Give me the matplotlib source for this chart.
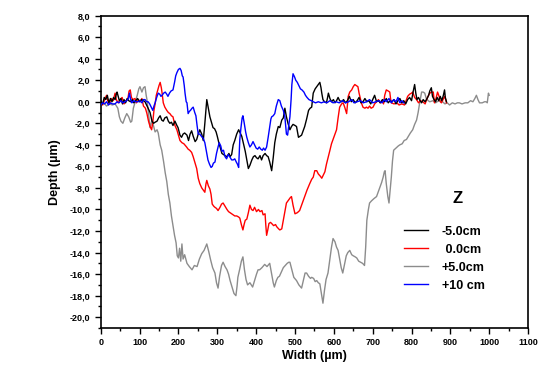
# Depth profiles across the track width for four Z positions

import matplotlib
matplotlib.use("Agg")
import numpy as np
import matplotlib.pyplot as plt
from matplotlib.ticker import MultipleLocator, FuncFormatter

plt.rcParams['font.family'] = ['Liberation Sans', 'DejaVu Sans']

# ---- data (x in um, depth in um) ----
x_m5 = [0, 5, 9, 13, 17, 21, 25, 29, 33, 37, 40, 42, 45, 48, 52, 56, 60, 64, 68, 72, 77, 81, 85, 90, 95, 100,
        105, 110, 114, 118, 122, 127, 132, 136, 140, 145, 149, 153, 157, 161, 165, 170, 174, 178, 182, 186, 191,
        196, 199, 204, 208, 212, 216, 222, 226, 230, 234, 238, 243, 247, 251, 255, 260, 264, 268, 271, 273, 276,
        279, 281, 285, 289, 293, 297, 300, 304, 308, 312, 316, 320, 325, 330, 333, 337, 341, 345, 350, 355, 359,
        363, 368, 372, 376, 380, 384, 389, 393, 397, 401, 405, 410, 414, 418, 423, 427, 431, 435, 440, 444, 448,
        452, 457, 461, 466, 470, 474, 478, 482, 487, 491, 495, 500, 504, 509, 513, 517, 521, 525, 530, 535, 539,
        543, 547, 552, 556, 560, 564, 567, 569, 572, 576, 581, 584, 586, 590, 594, 599, 603, 607, 611, 615, 620,
        625, 630, 635, 640, 645, 650, 655, 660, 665, 670, 675, 680, 685, 690, 695, 700, 705, 710, 715, 720, 725,
        730, 735, 740, 745, 750, 755, 760, 765, 770, 775, 780, 785, 790, 795, 800, 804, 808, 811, 814, 818, 822,
        826, 830, 835, 840, 844, 847, 851, 854, 858, 862, 866, 870, 874, 878, 882, 885, 887, 890]
y_m5 = [0.1, -0.2, 0.4, 0.2, 0.6, -0.1, 0.3, 0.0, 0.4, 0.2, 0.7, 0.9, 0.5, 0.1, 0.3, -0.2, 0.2, -0.1, 0.3, 0.1,
        0.0, 0.2, -0.1, 0.1, 0.3, 0.0, 0.2, 0.1, 0.0, -0.3, -0.6, -1.0, -1.8, -2.0, -1.9, -1.8, -1.5, -1.3, -1.7,
        -1.8, -1.5, -1.4, -1.8, -2.0, -1.9, -2.2, -1.8, -2.2, -2.4, -3.1, -3.3, -3.0, -2.9, -3.1, -3.6, -3.0, -2.7,
        -3.2, -3.7, -3.5, -3.0, -2.6, -3.0, -3.6, -2.0, -0.6, 0.2, -0.4, -1.0, -1.4, -1.9, -2.4, -2.5, -2.8, -3.2,
        -3.8, -4.3, -4.8, -4.9, -5.0, -5.1, -4.8, -5.1, -4.9, -4.0, -3.6, -3.0, -2.6, -2.9, -3.2, -4.0, -4.6, -5.4,
        -6.2, -5.9, -5.4, -5.1, -5.0, -5.2, -5.3, -5.0, -5.4, -5.0, -4.8, -5.0, -5.1, -5.6, -6.4, -5.2, -3.8, -3.0,
        -2.3, -2.4, -1.7, -1.5, -0.6, -1.4, -2.0, -2.6, -2.3, -2.1, -2.2, -2.3, -3.3, -3.2, -3.1, -2.7, -2.3, -1.6,
        -0.8, -0.6, -0.5, 0.8, 1.2, 1.4, 1.6, 1.8, 1.3, 0.8, 0.2, 0.0, -0.1, 0.4, 0.8, 0.3, 0.0, 0.2, -0.1, 0.1,
        0.4, 0.1, 0.0, 0.2, -0.1, 0.1, 0.5, 0.0, 0.2, -0.1, 0.1, 0.4, -0.1, 0.0, 0.3, 0.0, 0.1, -0.2, 0.2, 0.6,
        0.0, 0.1, -0.1, 0.2, 0.0, 0.3, -0.1, 0.1, 0.0, 0.2, -0.2, 0.1, 0.3, -0.1, 0.1, -0.2, 0.2, 0.4, 0.1, 0.9,
        1.6, 0.8, 0.2, 0.4, 0.1, -0.1, 0.2, 0.0, 0.3, 0.6, 1.0, 1.3, 0.5, 0.2, 0.0, 0.4, 0.1, 0.5, 0.1, 0.6, 1.1,
        0.4, 0.0]

x_0 = [0, 5, 10, 15, 18, 22, 27, 32, 37, 40, 45, 50, 55, 60, 65, 70, 73, 76, 79, 83, 88, 92, 97, 101, 106, 110,
       115, 119, 123, 127, 131, 134, 137, 140, 143, 147, 150, 153, 156, 158, 161, 165, 170, 174, 178, 182, 186,
       191, 196, 200, 204, 209, 214, 221, 225, 229, 234, 238, 243, 247, 251, 255, 260, 264, 268, 271, 273, 277,
       281, 284, 287, 291, 294, 298, 302, 307, 311, 315, 320, 325, 329, 333, 337, 341, 345, 350, 355, 358, 362,
       366, 369, 372, 376, 380, 384, 388, 392, 396, 401, 406, 410, 415, 418, 423, 425, 427, 430, 433, 437, 440,
       445, 450, 453, 458, 461, 466, 470, 474, 478, 484, 488, 491, 495, 500, 506, 512, 518, 525, 531, 538, 543,
       547, 551, 556, 560, 565, 569, 573, 577, 581, 586, 590, 594, 598, 603, 607, 611, 615, 620, 624, 628, 633,
       635, 637, 641, 646, 650, 654, 658, 662, 665, 667, 671, 675, 680, 684, 688, 692, 696, 701, 705, 710, 715,
       719, 724, 728, 731, 735, 740, 744, 746, 748, 755, 762, 768, 775, 782, 786, 790, 795, 800, 803, 808, 813,
       818, 823, 829, 835, 840, 844, 847, 852, 856, 859, 863, 867, 871, 874, 877, 881, 885, 888, 890]
y_0 = [0.0, -0.3, 0.2, 0.6, 0.1, -0.2, 0.3, 0.1, 0.8, 0.2, -0.1, 0.2, 0.4, -0.2, 0.1, 0.3, 1.0, 1.1, 0.4, 0.2,
       0.3, -0.1, 0.2, 0.0, 0.3, -0.4, -0.6, -1.1, -1.8, -2.3, -2.6, -1.9, -0.8, -0.2, 0.6, 1.1, 1.5, 1.8, 1.3,
       0.8, -0.1, -0.5, -0.8, -1.0, -1.1, -1.3, -1.4, -2.2, -2.6, -3.1, -3.6, -3.8, -3.9, -4.2, -4.4, -4.5, -4.7,
       -5.1, -5.7, -6.2, -7.1, -7.6, -8.0, -8.2, -8.4, -7.6, -7.3, -7.8, -8.1, -8.6, -9.5, -9.7, -9.8, -9.9,
       -10.1, -9.8, -9.5, -9.4, -9.7, -10.0, -10.2, -10.3, -10.4, -10.5, -10.6, -10.6, -10.7, -10.8, -11.4,
       -11.9, -11.4, -11.0, -10.9, -10.3, -9.6, -10.0, -10.1, -9.8, -10.2, -10.0, -10.2, -10.1, -10.5, -10.4,
       -11.5, -12.4, -11.9, -11.3, -11.2, -11.3, -11.5, -11.4, -11.6, -11.8, -11.9, -11.8, -11.0, -10.2, -9.4,
       -9.1, -8.9, -8.8, -9.6, -10.4, -10.3, -10.1, -9.5, -8.8, -8.2, -7.6, -7.2, -7.0, -6.4, -6.4, -6.7, -6.9,
       -7.1, -6.8, -6.5, -5.8, -5.1, -4.5, -3.9, -3.5, -3.0, -2.6, -1.5, -0.5, -0.2, -0.1, -0.5, -1.1, -0.3, 0.5,
       0.9, 1.1, 1.4, 1.6, 1.5, 1.4, 0.8, 0.5, -0.1, -0.5, -0.6, -0.5, -0.6, -0.4, -0.6, -0.5, -0.2, 0.0, 0.2,
       -0.1, 0.1, -0.2, 0.6, 1.1, 1.0, 0.9, 0.3, -0.1, -0.2, -0.1, -0.3, -0.2, -0.3, 0.1, 0.5, 0.7, 0.8, 0.9,
       0.4, 0.2, -0.1, 0.1, 0.0, -0.2, 0.3, 0.6, 0.8, 0.9, 0.9, -0.1, 0.3, 0.9, 0.5, 0.0, -0.1, 0.2, 0.5, 0.2,
       -0.1]

x_p5 = [0, 8, 15, 22, 30, 37, 44, 48, 52, 57, 62, 67, 72, 77, 80, 84, 88, 94, 98, 101, 106, 110, 114, 117, 119,
        122, 127, 132, 137, 140, 145, 148, 153, 157, 162, 166, 170, 174, 178, 182, 186, 190, 194, 197, 200, 203,
        206, 209, 212, 216, 222, 228, 235, 241, 248, 254, 260, 266, 273, 278, 283, 288, 294, 298, 302, 306, 311,
        315, 320, 325, 329, 333, 338, 343, 348, 351, 353, 358, 362, 366, 370, 374, 378, 384, 391, 396, 401, 405,
        409, 415, 422, 428, 435, 440, 444, 447, 452, 456, 460, 465, 470, 475, 480, 484, 487, 492, 497, 504, 510,
        517, 522, 526, 530, 535, 540, 543, 548, 552, 556, 560, 564, 568, 572, 576, 580, 585, 589, 594, 598, 603,
        607, 611, 615, 619, 623, 628, 632, 636, 641, 646, 650, 655, 659, 664, 669, 674, 679, 682, 685, 689, 692,
        697, 703, 710, 716, 720, 723, 727, 730, 732, 735, 739, 742, 744, 748, 751, 754, 760, 766, 770, 776, 781,
        787, 792, 797, 803, 808, 813, 817, 821, 824, 826, 830, 834, 838, 843, 847, 855, 862, 870, 880, 886, 892,
        898, 905, 912, 918, 923, 930, 938, 945, 952, 958, 963, 967, 971, 975, 982, 988, 992, 995, 998, 1000]
y_p5 = [-0.3, -0.1, -0.4, -0.2, -0.3, -0.2, -0.6, -1.4, -1.8, -2.0, -1.5, -1.1, -1.4, -1.9, -1.8, -0.6, -0.1,
        0.6, 1.2, 1.4, 0.9, 1.3, 1.4, 0.6, 0.2, -0.8, -2.4, -1.7, -2.4, -2.8, -2.6, -2.9, -4.0, -4.5, -5.6, -6.6,
        -7.4, -8.6, -9.4, -10.6, -11.5, -12.4, -13.1, -14.3, -14.5, -13.6, -14.8, -13.2, -14.6, -14.2, -15.0,
        -15.3, -15.6, -15.2, -15.3, -14.6, -14.1, -13.8, -13.2, -13.9, -14.7, -15.4, -15.9, -16.8, -17.3, -16.2,
        -15.2, -14.9, -15.3, -15.6, -16.0, -16.6, -17.2, -17.8, -18.0, -17.1, -16.3, -15.5, -14.8, -14.4, -15.6,
        -16.5, -17.0, -16.8, -17.2, -16.6, -16.0, -15.6, -15.6, -15.4, -15.1, -15.3, -15.0, -16.0, -16.8, -17.2,
        -16.6, -16.3, -16.2, -15.8, -15.4, -15.2, -15.0, -14.9, -14.9, -15.6, -16.3, -16.6, -17.0, -17.3, -16.5,
        -15.9, -15.9, -16.2, -16.4, -16.3, -16.4, -16.7, -16.6, -16.8, -16.9, -17.8, -18.7, -17.5, -16.5, -15.9,
        -14.8, -13.5, -12.7, -13.0, -13.5, -13.8, -14.6, -15.4, -15.9, -15.0, -14.3, -14.0, -13.8, -14.2, -14.3,
        -14.4, -14.5, -14.8, -14.9, -15.0, -15.2, -13.5, -11.0, -10.0, -9.4, -9.2, -9.0, -8.8, -8.2, -7.8, -7.5,
        -7.0, -6.5, -6.4, -7.6, -8.8, -9.4, -8.6, -7.0, -5.5, -4.5, -4.3, -4.1, -4.0, -3.9, -3.6, -3.5, -3.2,
        -2.9, -2.6, -2.1, -1.7, -1.0, -0.1, 0.5, 0.9, 0.9, 0.8, 0.3, 0.1, 0.0, 0.1, -0.1, 0.1, 0.0, -0.2, -0.1,
        -0.3, -0.1, -0.2, -0.1, -0.1, -0.2, -0.1, -0.1, 0.1, 0.0, 0.3, 0.6, 0.2, -0.1, -0.1, 0.0, 0.0, -0.1, 0.8,
        0.6]

x_p10 = [0, 5, 10, 15, 20, 25, 30, 37, 42, 47, 52, 57, 62, 67, 71, 74, 77, 80, 85, 90, 96, 101, 106, 110, 114,
         118, 122, 126, 130, 134, 137, 140, 144, 148, 152, 155, 158, 162, 166, 170, 173, 177, 181, 186, 190, 193,
         196, 200, 204, 207, 210, 212, 215, 217, 220, 222, 225, 228, 231, 235, 238, 242, 245, 248, 251, 255, 259,
         264, 268, 272, 276, 280, 284, 287, 290, 294, 298, 302, 305, 309, 312, 316, 320, 324, 328, 332, 337, 341,
         345, 349, 352, 355, 358, 361, 364, 366, 369, 373, 376, 380, 384, 388, 392, 396, 400, 404, 408, 412, 416,
         419, 423, 427, 431, 435, 438, 440, 444, 448, 452, 457, 461, 465, 470, 474, 478, 481, 484, 487, 490, 492,
         495, 499, 502, 506, 510, 514, 518, 523, 527, 531, 536, 542, 547, 553, 560, 568, 575, 582, 590, 598, 606,
         614, 622, 630, 638, 646, 652, 660, 668, 676, 684, 692, 700, 708, 716, 724, 730, 735, 742, 748, 754, 760,
         765, 770, 775, 780]
y_p10 = [-0.3, -0.1, -0.2, 0.0, -0.3, -0.1, -0.2, -0.2, 0.0, -0.1, 0.1, -0.1, 0.0, 0.1, 0.3, 0.8, 0.2, -0.1,
         0.1, 0.0, 0.0, 0.1, -0.1, 0.2, 0.2, 0.0, 0.0, -0.2, -0.5, -0.8, -0.4, -0.1, 0.4, 0.8, 0.7, 0.5, 0.6, 0.8,
         0.9, 0.7, 0.5, 0.8, 1.0, 1.1, 1.8, 2.4, 2.7, 3.0, 3.1, 2.9, 2.4, 2.3, 1.5, 0.8, 0.0, -0.1, -1.1, -0.9,
         -0.8, -0.6, -0.5, -1.0, -1.3, -2.2, -3.0, -3.0, -3.2, -3.4, -3.8, -4.6, -5.4, -5.8, -6.1, -6.0, -5.7,
         -5.6, -4.8, -4.2, -3.8, -4.1, -4.6, -4.5, -5.1, -5.3, -4.9, -5.1, -5.4, -5.4, -5.3, -5.6, -5.8, -6.1,
         -3.5, -2.4, -1.5, -1.3, -1.9, -2.8, -3.3, -3.8, -4.2, -4.0, -3.7, -4.0, -4.3, -4.4, -4.2, -4.4, -4.5,
         -4.3, -4.5, -4.2, -3.3, -2.3, -1.6, -1.4, -1.3, -1.1, -0.4, 0.2, 0.1, -0.4, -0.8, -1.4, -3.0, -3.1, -2.2,
         -1.4, 0.2, 1.6, 2.6, 2.3, 2.0, 1.8, 1.5, 1.2, 1.1, 0.9, 0.6, 0.4, 0.2, 0.1, 0.0, -0.1, 0.0, -0.1, 0.0,
         -0.1, 0.1, -0.1, 0.0, -0.1, 0.1, -0.1, 0.0, 0.2, -0.1, 0.0, 0.1, -0.1, 0.0, 0.2, -0.1, 0.0, 0.1, -0.1,
         0.2, 0.0, 0.3, -0.1, 0.2, 0.0, 0.4, -0.1, 0.1, -0.1]

labels = ['-5.0cm', ' 0.0cm', '+5.0cm', '+10 cm']
colors = ['black', '#ff0000', '#8c8c8c', '#0000ff']

fig = plt.figure(figsize=(5.43, 3.71), dpi=100)
ax = fig.add_axes([0.1855, 0.116, 0.787, 0.842])

series = [(x_m5, y_m5), (x_0, y_0), (x_p5, y_p5), (x_p10, y_p10)]
zorders = [3, 2, 1, 4]
lines = []
for (xs, ys), lab, c, z in zip(series, labels, colors, zorders):
    ln, = ax.plot(xs, ys, color=c, lw=1.0, label=lab, zorder=z)
    lines.append(ln)

ax.set_xlim(0, 1100)
ax.set_ylim(-21, 8)
ax.xaxis.set_major_locator(MultipleLocator(100))
ax.xaxis.set_minor_locator(MultipleLocator(50))
ax.yaxis.set_major_locator(MultipleLocator(2))
ax.yaxis.set_minor_locator(MultipleLocator(1))
ax.yaxis.set_major_formatter(FuncFormatter(lambda v, p: f"{v:.1f}".replace('.', ',')))
ax.tick_params(which='major', direction='out', length=4, width=1, labelsize=6.5)
ax.tick_params(which='minor', direction='out', length=2, width=1)
for lab in ax.get_xticklabels() + ax.get_yticklabels():
    lab.set_fontweight('bold')
for sp in ax.spines.values():
    sp.set_linewidth(1.2)

ax.set_xlabel('Width (\u00b5m)', fontsize=9, fontweight='bold', labelpad=2)
ax.set_ylabel('Depth (\u00b5m)', fontsize=9, fontweight='bold', labelpad=6)

ax.text(0.835, 0.416, 'Z', transform=ax.transAxes, fontsize=12, fontweight='bold',
        ha='center', va='center')
ax.legend(handles=lines, loc='upper left', bbox_to_anchor=(0.69, 0.355), frameon=False,
          prop={'size': 9, 'weight': 'bold'}, handlelength=1.9, handletextpad=1.1,
          labelspacing=0.48, borderpad=0.2)

fig.savefig('out.png', dpi=100)
